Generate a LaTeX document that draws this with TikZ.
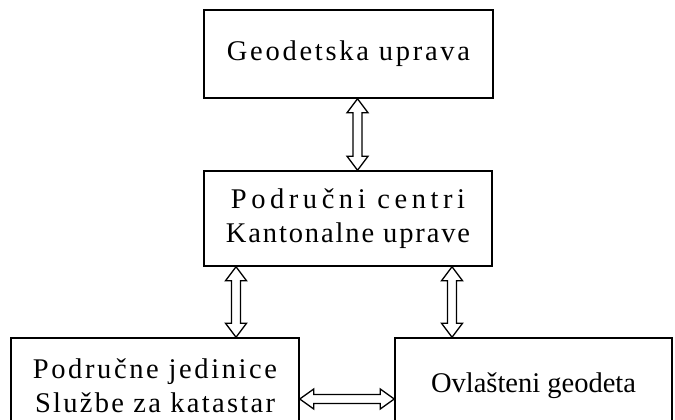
\documentclass[tikz,border=0pt]{standalone}
\usepackage{fontspec}
\setmainfont{Liberation Serif}
\usetikzlibrary{calc}
\newcommand\lsp[2]{{\addfontfeature{LetterSpace=#1}#2}}
\begin{document}
\begin{tikzpicture}[x=1pt,y=-1pt,
  box/.style={draw, line width=1.5pt, inner sep=0pt, align=center,
    font=\fontsize{28.5}{34}\selectfont},
  blk/.style={draw, fill=white, line width=1.3pt, line join=miter}]
\useasboundingbox (0,0) rectangle (675,420);
\clip (0,0) rectangle (675,420);
\node[box, minimum width=289pt, minimum height=88pt] (top) at (348.5,54)
  {\lsp{9.6}{Geodetska uprava}};
\node[box, minimum width=288pt, minimum height=95pt] (mid) at (348,218.5)
  {\lsp{16}{Područni centri}\\\lsp{6.6}{Kantonalne uprave}};
\node[box, minimum width=288pt, minimum height=96pt] (lb) at (155,386)
  {\lsp{9.2}{Područne jedinice}\\\lsp{8}{Službe za katastar}};
\node[box, minimum width=277pt, minimum height=96pt] (rb) at (533.5,386)
  {Ovlašteni geodeta};
\coordinate (xa) at (357.5,0);
\coordinate (xb) at (236,0);
\coordinate (xc) at (452,0);
\coordinate (yh) at (0,399);
\newcommand\varr[3]{%
  \draw[blk] let \p0=(#1), \p1=(#2), \p2=(#3) in
   (\x0,\y1) -- (\x0+10.5pt,\y1-14pt) -- (\x0+4.5pt,\y1-14pt) -- (\x0+4.5pt,\y2+14pt)
   -- (\x0+10.5pt,\y2+14pt) -- (\x0,\y2) -- (\x0-10.5pt,\y2+14pt) -- (\x0-4.5pt,\y2+14pt)
   -- (\x0-4.5pt,\y1-14pt) -- (\x0-10.5pt,\y1-14pt) -- cycle;}
\varr{xa}{top.south}{mid.north}
\varr{xb}{mid.south}{lb.north}
\varr{xc}{mid.south}{rb.north}
\draw[blk] let \p0=(yh), \p1=(lb.east), \p2=(rb.west) in
  (\x1,\y0) -- (\x1+14pt,\y0+10pt) -- (\x1+14pt,\y0+4.5pt) -- (\x2-14pt,\y0+4.5pt)
  -- (\x2-14pt,\y0+10pt) -- (\x2,\y0) -- (\x2-14pt,\y0-10pt) -- (\x2-14pt,\y0-4.5pt)
  -- (\x1+14pt,\y0-4.5pt) -- (\x1+14pt,\y0-10pt) -- cycle;
\end{tikzpicture}
\end{document}
